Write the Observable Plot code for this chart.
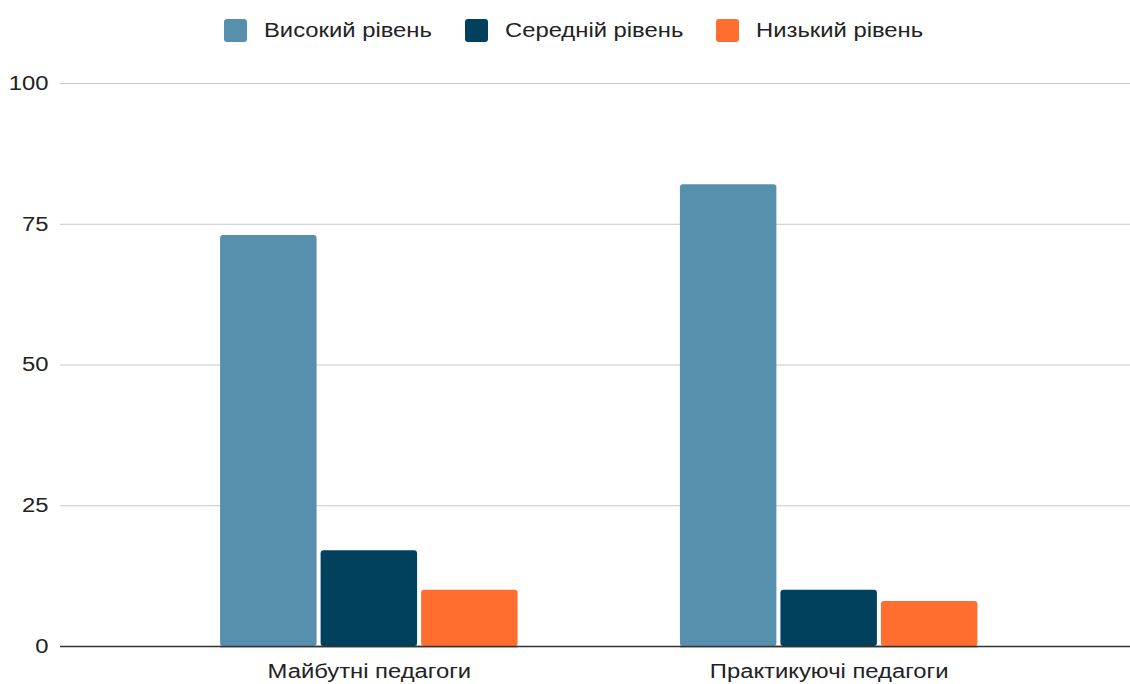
<!DOCTYPE html>
<html>
<head>
<meta charset="utf-8">
<script src="https://cdn.jsdelivr.net/npm/d3@7"></script>
<script src="https://cdn.jsdelivr.net/npm/@observablehq/plot@0.6"></script>
<style>
  html, body { margin: 0; padding: 0; background: #fff; }
  body { width: 1130px; height: 684px; overflow: hidden; font-family: "Liberation Sans", Arial, sans-serif; }
  #legend { height: 60px; display: flex; align-items: center; justify-content: center; padding-left: 17px; box-sizing: border-box; font-size: 20px; color: #222; }
  .item { display: flex; align-items: center; margin: 0 16.5px; }
  .sw { width: 23px; height: 23px; border-radius: 3px; margin-right: 17px; }
  .lab { display: inline-block; white-space: nowrap; transform-origin: 0 50%; transform: scaleX(1.19); }
  #chart { position: relative; width: 1130px; height: 624px; }
  #chart svg { position: absolute; left: 0; top: 0; }
</style>
</head>
<body>
<div id="legend"></div>
<div id="chart"></div>
<script>
const groups = ["Майбутні педагоги", "Практикуючі педагоги"];
const levels = ["Високий рівень", "Середній рівень", "Низький рівень"];
const colors = ["#5790ad", "#01415e", "#ff6e2f"];
const values = {
  "Майбутні педагоги": [73, 17, 10],
  "Практикуючі педагоги": [82, 10, 8]
};
const yTicks = [0, 25, 50, 75, 100];

const data = groups.flatMap(g => levels.map((l, i) => ({group: g, level: l, value: values[g][i]})));

const stretch = 1.19;

const legend = document.getElementById("legend");
levels.forEach((l, i) => {
  const it = document.createElement("div");
  it.className = "item";
  it.innerHTML = `<span class="sw" style="background:${colors[i]}"></span><span class="lab">${l}</span>`;
  legend.appendChild(it);
});
legend.querySelectorAll(".lab").forEach(s => {
  const w = s.getBoundingClientRect().width / stretch;
  s.style.marginRight = (w * (stretch - 1)) + "px";
});

const common = {
  width: 1130,
  height: 624,
  marginTop: 23,
  marginBottom: 38,
  marginLeft: 60,
  marginRight: 0,
  style: {fontSize: "20px", fontFamily: "'Liberation Sans', Arial, sans-serif", color: "#222", background: "transparent"}
};

// background layer: grid, y axis, baseline
const back = Plot.plot({
  ...common,
  x: {axis: null},
  y: {domain: [0, 100], ticks: yTicks, tickSize: 0, tickPadding: 12, label: null},
  marks: [
    Plot.ruleY(yTicks.filter(d => d > 0), {y: d => d, stroke: "#c8c8c8", strokeWidth: 1}),
    Plot.ruleY([0], {stroke: "#333", strokeWidth: 1.5})
  ]
});

// foreground layer: grouped bars
const front = Plot.plot({
  ...common,
  fx: {domain: groups, paddingInner: 0.353, paddingOuter: 0.34, align: 0.512, round: false, tickSize: 0, tickPadding: 17, label: null},
  x: {domain: levels, paddingInner: 0.04, paddingOuter: 0, round: false, axis: null},
  y: {domain: [0, 100], axis: null},
  color: {domain: levels, range: colors},
  marks: [
    Plot.barY(data, {fx: "group", x: "level", y: "value", fill: "level", rx: 3}),
    Plot.ruleY([0], {stroke: "#333", strokeWidth: 1.5})
  ]
});

// horizontally widen the axis labels to match the reference lettering
[back, front].forEach(svg => {
  svg.querySelectorAll("text").forEach(t => {
    const tr = t.getAttribute("transform") || "";
    t.setAttribute("transform", (tr + ` scale(${stretch},1)`).trim());
  });
});

const host = document.getElementById("chart");
host.appendChild(back);
host.appendChild(front);
</script>
</body>
</html>
